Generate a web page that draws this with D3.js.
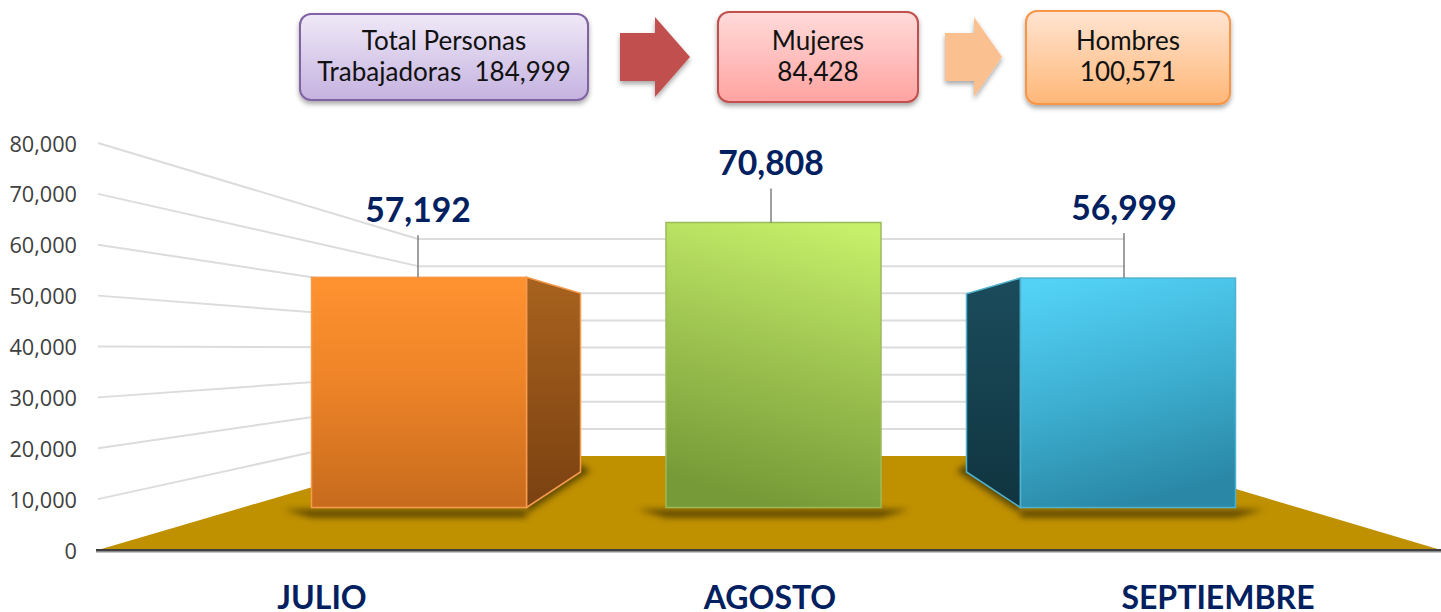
<!DOCTYPE html>
<html><head><meta charset="utf-8">
<script src="https://cdn.jsdelivr.net/npm/d3@7/dist/d3.min.js"></script>
<style>html,body{margin:0;padding:0;background:#fff}svg{display:block}text{font-family:Lato,"Open Sans",sans-serif}</style>
</head><body><svg id="c" width="1441" height="612"></svg>
<script>
const categories = ["JULIO","AGOSTO","SEPTIEMBRE"];
const values = [57192,70808,56999];
const yTicks = [0,10000,20000,30000,40000,50000,60000,70000,80000];
const headerLines = [["Total Personas","Trabajadoras  184,999"],["Mujeres","84,428"],["Hombres","100,571"]];

const svg = d3.select("#c"), defs = svg.append("defs");
const fmt = d3.format(",");
const grad = (id, stops, x1=0,y1=0,x2=0,y2=1) => {
  const g = defs.append("linearGradient").attr("id",id).attr("x1",x1).attr("y1",y1).attr("x2",x2).attr("y2",y2);
  stops.forEach(([o,c])=>g.append("stop").attr("offset",o).attr("stop-color",c));
};
grad("purple",[[0,"#EFE9F7"],[1,"#C5B2E0"]]);
grad("pink",[[0,"#FFDBDA"],[1,"#FFA3A1"]]);
grad("peach",[[0,"#FFE4D2"],[1,"#FFB777"]]);
grad("f0",[[0,"#FF9230"],[.45,"#EE8428"],[1,"#C76B1D"]]);
grad("s0",[[0,"#A8621E"],[1,"#7A4111"]]);
grad("f1",[[0,"#C6EF6A"],[.5,"#9DC250"],[1,"#769A37"]],.75,0,.55,1);
grad("f2",[[0,"#53D2F6"],[.5,"#3EB0D2"],[1,"#2A88A6"]],.2,0,.45,1);
grad("s2",[[0,"#1B4C5C"],[1,"#103440"]]);
const blur = (id,s)=>defs.append("filter").attr("id",id).attr("x","-20%").attr("y","-80%").attr("width","140%").attr("height","260%")
  .append("feGaussianBlur").attr("stdDeviation",s);
blur("bs",3);

// wall scales: left edge of the wall and its back plane
const yWall = d3.scaleLinear().domain([0,80000]).range([550,143]);
const yBack = d3.scaleLinear().domain([0,80000]).range([456,239]);
const yFront = d3.scaleLinear().domain([0,80000]).range([507.5,185.5]);
const ySide  = d3.scaleLinear().domain([0,80000]).range([472,222]);
const xBar = d3.scalePoint().domain(categories).range([419,1128]);
const xLead = d3.scalePoint().domain(categories).range([418,1124]);
const xCat = d3.scalePoint().domain(categories).range([322,1218]);
const barW = 215, depth = 54;
const wallL=98, backL=418, backR=1125, floorR=1441;

// gridlines
const grid = svg.append("g").attr("stroke","#DCDCDC").attr("stroke-width",2).attr("fill","none");
yTicks.filter(t=>t>0).forEach(t=>{
  grid.append("line").attr("x1",wallL).attr("y1",yWall(t)).attr("x2",backL).attr("y2",yBack(t));
  grid.append("line").attr("x1",backL).attr("y1",yBack(t)).attr("x2",backR).attr("y2",yBack(t));
});
// floor
svg.append("polygon").attr("fill","#BF9000")
  .attr("points",[[wallL,yWall(0)],[backL,yBack(0)],[backR,yBack(0)],[floorR,yWall(0)]].join(" "));
svg.append("line").attr("x1",96).attr("x2",1441).attr("y1",551).attr("y2",551).attr("stroke","#8a8a8a").attr("stroke-width",3);
svg.append("line").attr("x1",96).attr("x2",1441).attr("y1",550).attr("y2",550).attr("stroke","#3F3F3F").attr("stroke-width",2);

// tick labels
svg.append("g").selectAll("text").data(yTicks).join("text")
  .attr("x",77).attr("y",d=>yWall(d)+8.5).attr("text-anchor","end")
  .attr("fill","#404040").style("font-family","'Open Sans'").style("font-size","21.7px")
  .text(fmt);

// bars
categories.forEach((c,i)=>{
  const cx=xBar(c), x0=cx-barW/2, x1=cx+barW/2, v=values[i], top=yFront(v), base=yFront(0);
  const dir=i-1; // outward side of the box
  const edge = dir>0 ? x0 : x1;
  const bx = edge + (dir>0?-depth:depth);
  // floor shadow, tapering toward the outer corners
  const shadow=[[x0-(dir<=0?28:0),base+2],[x1+(dir>=0?28:0),base+2],[x1,base+10],[x0,base+10]];
  if(dir!==0){
    const sd=[[edge,base+6],[bx+(dir>0?-10:10),ySide(0)-1],[bx,ySide(0)-8],[edge,base-8]];
    svg.append("polygon").attr("points",sd.join(" ")).attr("fill","#5f4800").attr("filter","url(#bs)");
  }
  svg.append("polygon").attr("points",shadow.join(" ")).attr("fill","#5f4800").attr("filter","url(#bs)");
  const stroke=["#F79A4C","#9BBB59","#4FB3D0"][i];
  if(dir!==0){
    svg.append("polygon").attr("fill",`url(#s${i})`).attr("stroke",stroke).attr("stroke-width",1.5)
      .attr("points",[[edge,top],[bx,ySide(v)],[bx,ySide(0)],[edge,base]].join(" "));
  }
  svg.append("rect").attr("x",x0).attr("y",top).attr("width",barW).attr("height",base-top)
    .attr("fill",`url(#f${i})`).attr("stroke",stroke).attr("stroke-width",1.5);
  // leader + label
  const lx=xLead(c), ly=top-[42,34,45][i];
  svg.append("line").attr("x1",lx).attr("x2",lx).attr("y1",ly).attr("y2",top).attr("stroke","#7F7F7F").attr("stroke-width",1.5);
  svg.append("text").attr("x",lx).attr("y",ly-13).attr("text-anchor","middle")
    .attr("fill","#002060").style("font-weight",700).style("font-size","33.7px").text(fmt(v));
  svg.append("text").attr("x",xCat(c)).attr("y",609).attr("text-anchor","middle")
    .attr("fill","#002060").style("font-weight",700).style("font-size","32px").text(c);
});

// header boxes
const boxes=[{x:300,y:14,w:288,h:86,f:"purple",s:"#8064A2"},{x:718,y:12,w:200,h:90,f:"pink",s:"#C0504D"},{x:1026,y:11,w:204,h:93,f:"peach",s:"#F79646"}];
const soft=defs.append("filter").attr("id","bxs").attr("x","-10%").attr("y","-10%").attr("width","120%").attr("height","130%");
soft.append("feDropShadow").attr("dx",0).attr("dy",3).attr("stdDeviation",2.5).attr("flood-color","#000").attr("flood-opacity",.35);
boxes.forEach((b,i)=>{
  svg.append("rect").attr("x",b.x).attr("y",b.y).attr("width",b.w).attr("height",b.h).attr("rx",11)
    .attr("fill",`url(#${b.f})`).attr("stroke",b.s).attr("stroke-width",2).attr("filter","url(#bxs)");
  headerLines[i].forEach((t,j)=>{
    svg.append("text").attr("x",b.x+b.w/2).attr("y",50+j*31).attr("text-anchor","middle")
      .attr("fill","#111").style("font-size","26px").style("white-space","pre").attr("xml:space","preserve").text(t);
  });
});
// arrows
[[620,655,690,33,81,17,97,"#C0504D"],[945,974,1002,33,81,17,97,"#FAC090"]].forEach(([a,b,c,t1,t2,h1,h2,col])=>{
  svg.append("polygon").attr("fill",col).attr("filter","url(#bxs)")
    .attr("points",[[a,t1],[b,t1],[b,h1],[c,(h1+h2)/2],[b,h2],[b,t2],[a,t2]].join(" "));
});
</script></body></html>
